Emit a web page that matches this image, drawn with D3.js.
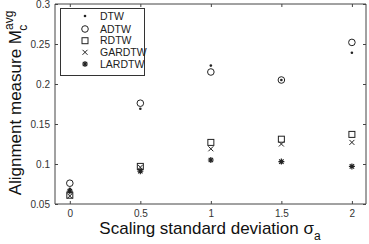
<!DOCTYPE html>
<html><head><meta charset="utf-8">
<script src="https://cdn.jsdelivr.net/npm/d3@7"></script>
<style>body{margin:0;background:#fff}svg{display:block}</style>
</head><body>
<script>
const xValues = [0, 0.5, 1, 1.5, 2];
const seriesNames = ["DTW", "ADTW", "RDTW", "GARDTW", "LARDTW"];
const DTW    = [0.069, 0.169, 0.223, 0.205, 0.239];
const ADTW   = [0.076, 0.176, 0.215, 0.205, 0.252];
const RDTW   = [0.061, 0.097, 0.127, 0.131, 0.137];
const GARDTW = [0.060, 0.096, 0.119, 0.125, 0.127];
const LARDTW = [0.066, 0.091, 0.105, 0.103, 0.097];
const xTicks = [0, 0.5, 1, 1.5, 2];
const yTicks = [0.05, 0.1, 0.15, 0.2, 0.25, 0.3];
const seriesData = [DTW, ADTW, RDTW, GARDTW, LARDTW];
const markers = ["dot", "circle", "square", "x", "star"];

const W = 369, H = 244;
const svg = d3.select("body").append("svg").attr("width", W).attr("height", H);
const x = d3.scaleLinear().domain([-0.105, 2.1]).range([55, 366]);
const y = d3.scaleLinear().domain([0.05, 0.3]).range([204, 4]);
const col = "#222";

function drawMarker(g, type, cx, cy) {
  if (type === "dot") g.append("circle").attr("cx", cx).attr("cy", cy).attr("r", 1.3).attr("fill", col);
  else if (type === "circle") g.append("circle").attr("cx", cx).attr("cy", cy).attr("r", 3.3).attr("fill", "none").attr("stroke", col).attr("stroke-width", 1);
  else if (type === "square") g.append("rect").attr("x", cx - 3).attr("y", cy - 3).attr("width", 6).attr("height", 6).attr("fill", "none").attr("stroke", col).attr("stroke-width", 1);
  else if (type === "x") g.append("path").attr("d", `M${cx-2.5},${cy-2.5}L${cx+2.5},${cy+2.5}M${cx-2.5},${cy+2.5}L${cx+2.5},${cy-2.5}`).attr("stroke", col).attr("stroke-width", 1);
  else if (type === "star") g.append("path").attr("d", `M${cx-3},${cy}L${cx+3},${cy}M${cx},${cy-3}L${cx},${cy+3}M${cx-2.2},${cy-2.2}L${cx+2.2},${cy+2.2}M${cx-2.2},${cy+2.2}L${cx+2.2},${cy-2.2}`).attr("stroke", col).attr("stroke-width", 1.2);
}

// axes frame
const tickLen = 3;
const axB = svg.append("g").attr("transform", "translate(0,204)")
  .call(d3.axisBottom(x).tickValues(xTicks).tickSize(-tickLen).tickPadding(6).tickFormat(d => d3.format("")(d)));
const axT = svg.append("g").attr("transform", "translate(0,4)")
  .call(d3.axisTop(x).tickValues(xTicks).tickSize(-tickLen).tickFormat(""));
const axL = svg.append("g").attr("transform", "translate(55,0)")
  .call(d3.axisLeft(y).tickValues(yTicks).tickSize(-tickLen).tickPadding(5).tickFormat(d => d3.format("")(d)));
const axR = svg.append("g").attr("transform", "translate(366,0)")
  .call(d3.axisRight(y).tickValues(yTicks).tickSize(-tickLen).tickFormat(""));
[axB, axT, axL, axR].forEach(a => {
  a.selectAll("path.domain").attr("stroke", "#444").attr("stroke-width", 1);
  a.selectAll(".tick line").attr("stroke", "#444");
  a.selectAll("text").attr("font-family", "Liberation Sans, Arial, sans-serif").attr("font-size", 10).attr("fill", "#333");
});
axB.select("path.domain").attr("d", "M55,0H366");
axT.select("path.domain").attr("d", "M55,0H366");
axL.select("path.domain").attr("d", "M0,4V204");
axR.select("path.domain").attr("d", "M0,4V204");

// points
const pg = svg.append("g");
seriesData.forEach((s, i) => {
  s.forEach((v, j) => drawMarker(pg, markers[i], x(xValues[j]), y(v)));
});

// legend
const lg = svg.append("g");
lg.append("rect").attr("x", 60.5).attr("y", 8.5).attr("width", 84).attr("height", 67).attr("fill", "#fff").attr("stroke", "#333").attr("stroke-width", 1);
const legY = [16, 29, 40.7, 52.3, 64];
seriesNames.forEach((n, i) => {
  drawMarker(lg, markers[i], 85, legY[i]);
  lg.append("text").attr("x", 100).attr("y", legY[i] + 3.6).attr("font-family", "Liberation Sans, Arial, sans-serif").attr("font-size", 10.5).attr("fill", "#222").text(n);
});

// axis labels
const xl = svg.append("text").attr("x", 210).attr("y", 234).attr("text-anchor", "middle")
  .attr("font-family", "Liberation Sans, Arial, sans-serif").attr("font-size", 17).attr("fill", "#111");
xl.append("tspan").text("Scaling standard deviation σ");
xl.append("tspan").attr("font-size", 12).attr("dy", 6).text("a");

const yl = svg.append("text").attr("transform", "translate(21,103) rotate(-90)").attr("text-anchor", "middle")
  .attr("font-family", "Liberation Sans, Arial, sans-serif").attr("font-size", 17).attr("fill", "#111");
yl.append("tspan").text("Alignment measure M");
yl.append("tspan").attr("font-size", 12).attr("dy", -8).text("avg");
yl.append("tspan").attr("font-size", 12).attr("dx", -20).attr("dy", 14).text("c");
</script>
</body></html>
